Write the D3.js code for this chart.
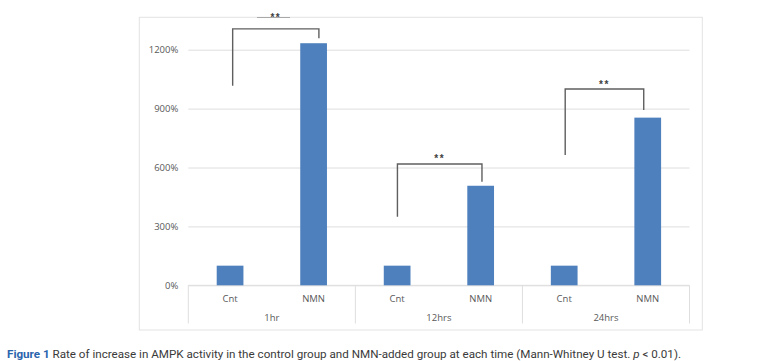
<!DOCTYPE html>
<html><head><meta charset="utf-8">
<script src="https://cdn.jsdelivr.net/npm/d3@7"></script>
<style>body{margin:0;background:#fff}svg{display:block}</style>
</head><body>
<svg id="c" width="776" height="361"></svg>
<script>
const groups = ["1hr", "12hrs", "24hrs"];
const conditions = ["Cnt", "NMN"];
const cntValues = [100, 100, 100];
const nmnValues = [1233, 507, 854];
const yTicks = [0, 300, 600, 900, 1200];
// significance brackets: [left-arm bottom, top, right-arm bottom, star level] in % units
const bracketLeftLow = [1017, 349, 664];
const bracketTop = [1306, 618, 1000];
const bracketRightLow = [1258, 528, 893];
const starLevel = [1372, 654, 1032];
const starLabels = ["**", "**", "**"];
const captionBold = "Figure 1";
const captionRest = " Rate of increase in AMPK activity in the control group and NMN-added group at each time (Mann-Whitney U test. ";
const captionP = "p";
const captionEnd = " < 0.01).";

const svg = d3.select("#c");
const plot = {left: 188.3, right: 689.5, top: 49.7, bottom: 285.3};
const x0 = d3.scaleBand().domain(groups).range([plot.left, plot.right]).padding(0);
const x1 = d3.scaleBand().domain(conditions).range([0, x0.bandwidth()]).paddingInner(0.68).paddingOuter(0.34);
const y = d3.scaleLinear().domain([0, 1200]).range([plot.bottom, plot.top]);

const data = [];
groups.forEach((g, i) => {
  data.push({g, c: "Cnt", v: cntValues[i]});
  data.push({g, c: "NMN", v: nmnValues[i]});
});

const labelFont = "'Open Sans', 'Liberation Sans', Arial, sans-serif";

// frame
svg.append("rect").attr("x", 139.3).attr("y", 17.3).attr("width", 563).attr("height", 312.7)
  .attr("fill", "none").attr("stroke", "#e3e3e3").attr("stroke-width", 1);

// gridlines
const yAxis = d3.axisLeft(y).tickValues(yTicks).tickFormat(d => d + "%").tickSize(-(plot.right - plot.left)).tickPadding(10);
const ya = svg.append("g").attr("transform", `translate(${plot.left},0)`).call(yAxis);
ya.select(".domain").remove();
ya.selectAll(".tick line").attr("stroke", "#dedede").attr("stroke-width", 1);
ya.selectAll(".tick text").attr("fill", "#595959").attr("font-family", labelFont).attr("font-size", "9.5px");

// category axis separators
const bounds = groups.map(g => x0(g)).concat([plot.right]);
svg.append("g").selectAll("line").data(bounds).join("line")
  .attr("x1", d => d).attr("x2", d => d).attr("y1", plot.bottom).attr("y2", 323.5)
  .attr("stroke", "#dedede").attr("stroke-width", 1);
svg.append("line").attr("x1", plot.left).attr("x2", plot.right).attr("y1", plot.bottom).attr("y2", plot.bottom)
  .attr("stroke", "#dedede");

// bars
svg.append("g").selectAll("rect").data(data).join("rect")
  .attr("x", d => x0(d.g) + x1(d.c)).attr("width", x1.bandwidth())
  .attr("y", d => y(d.v)).attr("height", d => y(0) - y(d.v))
  .attr("fill", "#4e80bd");

// category labels
const lbl = svg.append("g").attr("fill", "#595959").attr("font-family", labelFont).attr("font-size", "9.5px").attr("text-anchor", "middle");
lbl.selectAll("text.c").data(data).join("text").attr("class", "c")
  .attr("x", d => x0(d.g) + x1(d.c) + x1.bandwidth() / 2).attr("y", 301.5).text(d => d.c);
lbl.selectAll("text.g").data(groups).join("text").attr("class", "g")
  .attr("x", d => x0(d) + x0.bandwidth() / 2).attr("y", 321).text(d => d);

// brackets
const armOffsetL = [2.6, 0.3, 1];
const armOffsetR = [5.3, 1.3, -4];
const br = svg.append("g");
groups.forEach((g, i) => {
  const xl = x0(g) + x1("Cnt") + x1.bandwidth() / 2 + armOffsetL[i];
  const xr = x0(g) + x1("NMN") + x1.bandwidth() / 2 + armOffsetR[i];
  br.append("path")
    .attr("d", `M${xl},${y(bracketLeftLow[i])}V${y(bracketTop[i])}H${xr}V${y(bracketRightLow[i])}`)
    .attr("fill", "none").attr("stroke", "#5f5f5f").attr("stroke-width", 1.4);
  br.append("text").attr("x", (xl + xr) / 2).attr("y", y(starLevel[i]) + 5.5)
    .attr("text-anchor", "middle").attr("fill", "#404040").attr("letter-spacing", "1.5px")
    .attr("font-family", "'Liberation Sans', Arial, sans-serif").attr("font-size", "10px").attr("font-weight", "bold")
    .text(starLabels[i]);
});
// small rule under the top stars
svg.append("line").attr("x1", 257).attr("x2", 290).attr("y1", 17.5).attr("y2", 17.5).attr("stroke", "#a8a8a8").attr("stroke-width", 1);

// caption
const cap = svg.append("text").attr("x", 7).attr("y", 357.5)
  .attr("font-family", "Roboto, 'Noto Sans', sans-serif").attr("font-size", "11.6px").attr("fill", "#3a3a3a");
cap.append("tspan").attr("fill", "#2a64ad").attr("font-weight", "bold").text(captionBold);
cap.append("tspan").text(captionRest);
cap.append("tspan").attr("font-style", "italic").text(captionP);
cap.append("tspan").text(captionEnd);
cap.attr("textLength", 674).attr("lengthAdjust", "spacingAndGlyphs");
</script>
</body></html>
